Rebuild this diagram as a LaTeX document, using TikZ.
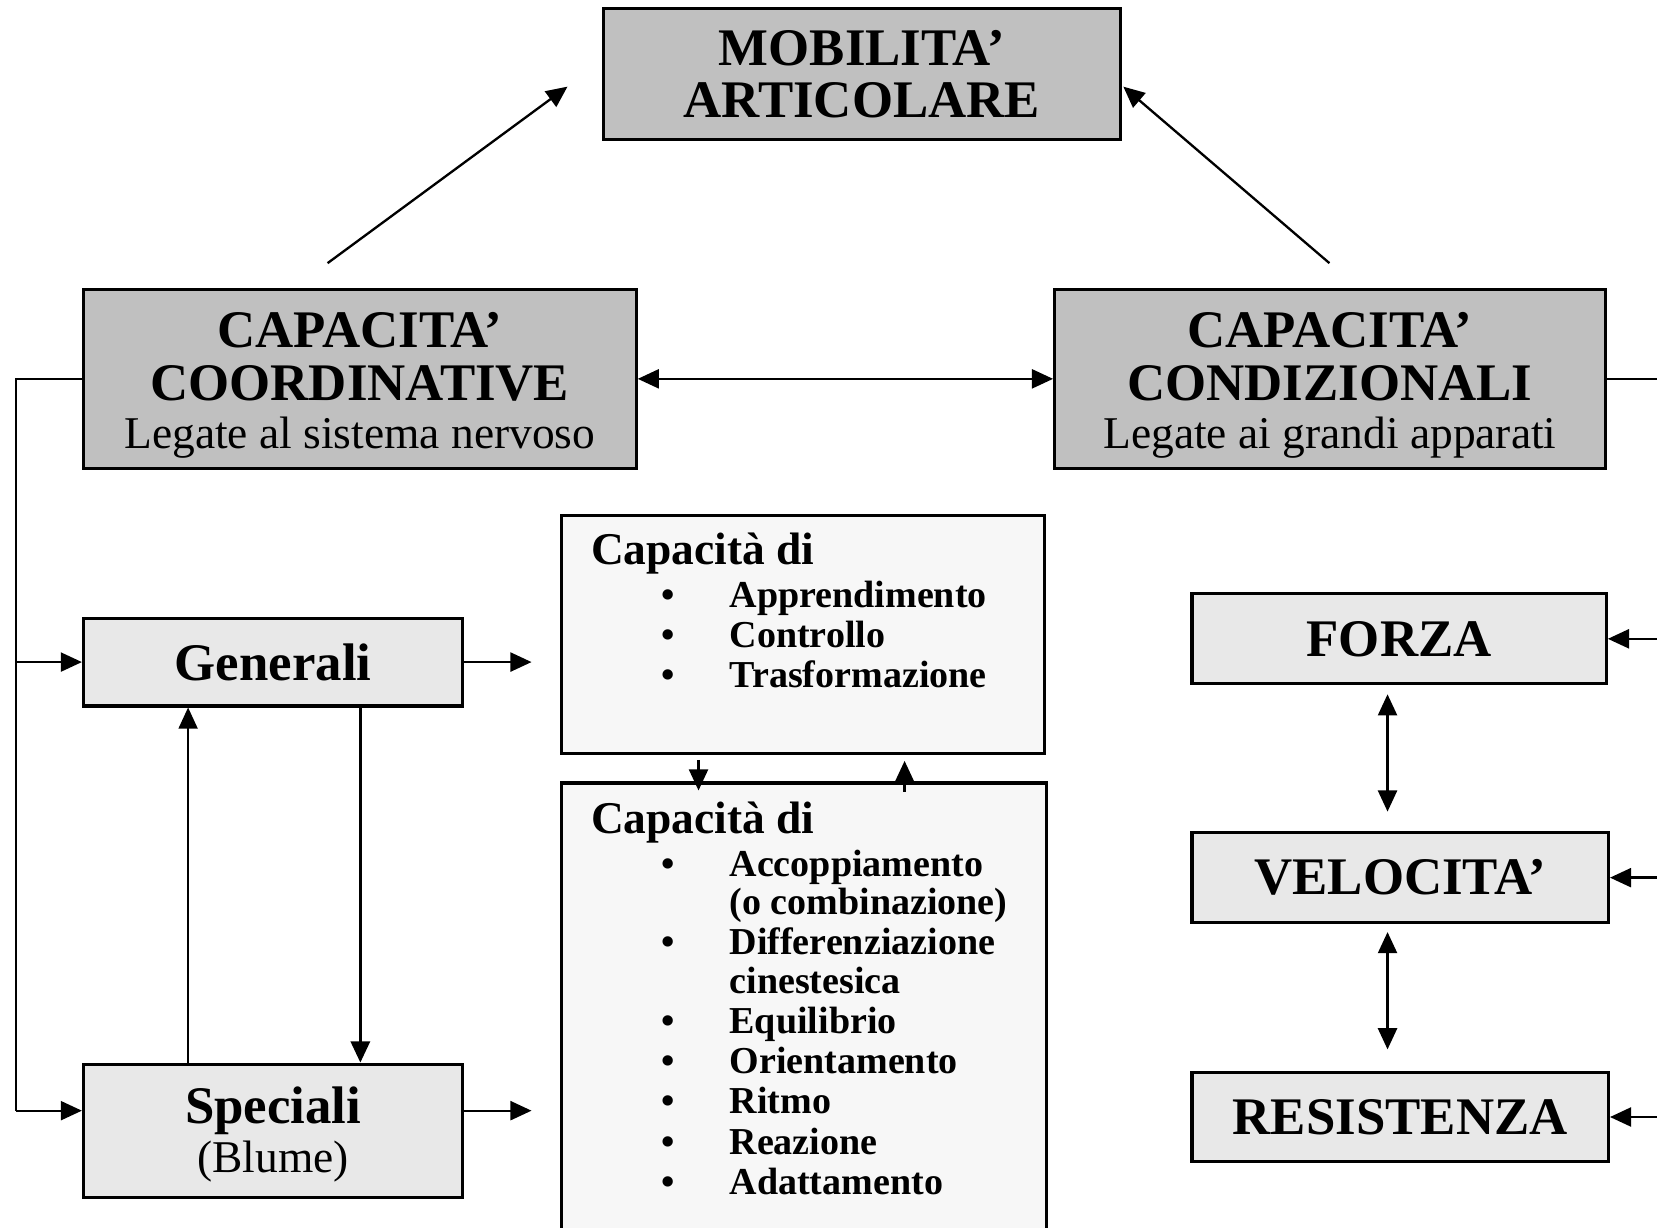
\documentclass[tikz,border=0pt]{standalone}
\usepackage{fontspec}
\setmainfont{Liberation Serif}
\usetikzlibrary{arrows.meta}
\definecolor{boxdark}{HTML}{C0C0C0}
\definecolor{boxlight}{HTML}{E8E8E8}
\definecolor{boxpale}{HTML}{F7F7F7}
\begin{document}
\begin{tikzpicture}[x=0.5pt,y=-0.5pt,
  frame/.style={draw=black, line width=1.5pt, inner sep=0pt, align=center},
  darkbox/.style={frame, fill=boxdark},
  lightbox/.style={frame, fill=boxlight},
  palebox/.style={frame, fill=boxpale},
  bigbold/.style={font=\fontsize{25}{25}\selectfont\bfseries},
  arr/.style={line width=1.1pt, -{Triangle[length=10pt,width=9pt]}},
  dbl/.style={line width=1.1pt, {Triangle[length=10pt,width=9pt]}-{Triangle[length=10pt,width=9pt]}},
  plain/.style={line width=1.1pt},
  listhead/.style={anchor=base west, inner sep=0pt, font=\fontsize{21.5}{24}\selectfont\bfseries},
  listitem/.style={anchor=base west, inner sep=0pt, font=\fontsize{18}{19}\selectfont\bfseries},
  listdot/.style={anchor=base, inner sep=0pt, font=\fontsize{18}{19}\selectfont\bfseries},
]
\useasboundingbox[fill=white] (0,0) rectangle (1568,1162);

% --- boxes ---
\node[darkbox, minimum width=244.5pt, minimum height=62pt,
      font=\fontsize{25}{24.5}\selectfont\bfseries] (mob) at (815.5,70)
      {MOBILITA’\\ARTICOLARE};

\node[darkbox, bigbold, minimum width=261.5pt, minimum height=84.5pt] (coord) at (340.5,358.5)
      {\rule{0pt}{23pt}CAPACITA’\\COORDINATIVE\\[-2pt]{\fontsize{21.5}{23}\selectfont\mdseries Legate al sistema nervoso}};

\node[darkbox, bigbold, minimum width=260.5pt, minimum height=84.5pt] (cond) at (1258.5,358.5)
      {\rule{0pt}{23pt}CAPACITA’\\CONDIZIONALI\\[-2pt]{\fontsize{21.5}{23}\selectfont\mdseries Legate ai grandi apparati}};

\node[lightbox, bigbold, minimum width=179.5pt, minimum height=41.5pt] (gen) at (258.5,626.5) {Generali};
\node[lightbox, bigbold, minimum width=179.5pt, minimum height=63pt] (spec) at (258.5,1070)
      {\rule{0pt}{21pt}Speciali\\[-2pt]{\fontsize{21.5}{23}\selectfont\mdseries (Blume)}};

\node[palebox, minimum width=228.5pt, minimum height=112.5pt] (cap1) at (759.5,600.5) {};
\node[palebox, minimum width=229.5pt, minimum height=220pt] (cap2) at (760.5,961) {};

\node[lightbox, bigbold, minimum width=196pt, minimum height=42.5pt] (forza) at (1324,604.5) {FORZA};
\node[lightbox, bigbold, minimum width=197pt, minimum height=42.5pt] (vel) at (1325,830.5) {VELOCITA’};
\node[lightbox, bigbold, minimum width=197pt, minimum height=42pt] (res) at (1325,1057) {RESISTENZA};

% --- lists inside the two "Capacità di" boxes ---
\node[listhead] (c1h) at (559,534) {Capacità di};
\foreach \y/\t [count=\i] in {575/Apprendimento, 613/Controllo, 651/Trasformazione} {
  \node[listdot] (c1b\i) at (632,\y) {\textbullet};
  \node[listitem] (c1t\i) at (690,\y) {\t};
}

\node[listhead] (c2h) at (559,789) {Capacità di};
\foreach \y/\t [count=\i] in {829/Accoppiamento, 903/Differenziazione, 978/Equilibrio,
                              1016/Orientamento, 1054/Ritmo, 1092/Reazione, 1130/Adattamento} {
  \node[listdot] (c2b\i) at (632,\y) {\textbullet};
  \node[listitem] (c2t\i) at (690,\y) {\t};
}
\node[listitem] (c2x1) at (690,865) {(o combinazione)};
\node[listitem] (c2x2) at (690,940) {cinestesica};

% --- connectors ---
\coordinate (m1) at (310,249);  \coordinate (m1e) at (537,82);
\coordinate (m2) at (1258,249); \coordinate (m2e) at (1063,82);
\draw[arr] (m1) -- (m1e);
\draw[arr] (m2) -- (m2e);

\draw[dbl] (coord.east) -- (cond.west);

% left trunk
\coordinate (lt) at (15,358.5);
\coordinate (lb) at (15,1051);
\draw[plain] (coord.west) -- (lt) -- (lb);
\draw[arr] (lt |- gen.west) -- (gen.west);
\draw[arr] (lb) -- (lb -| spec.west);

% between Generali and Speciali
\draw[arr, line width=1.4pt] ([xshift=41.25pt]gen.south) -- ([xshift=41.25pt]spec.north);
\draw[arr, line width=0.8pt] ([xshift=-40.25pt]spec.north) -- ([xshift=-40.25pt]gen.south);

% towards the lists
\coordinate (g1e) at (503,626.5);
\coordinate (s1e) at (503,1051);
\draw[arr] (gen.east) -- (g1e);
\draw[arr] (s1e -| spec.east) -- (s1e);

% between the two lists
\coordinate (d1) at (661,719); \coordinate (d1e) at (661,748);
\coordinate (u1) at (856,749); \coordinate (u1e) at (856,720);
\draw[arr] (d1) -- (d1e);
\draw[arr] (u1) -- (u1e);

% right trunk
\coordinate (rt) at (1590,358.5);
\draw[plain] (cond.east) -- (rt) -- (rt |- res.east);
\draw[arr] (rt |- forza.east) -- (forza.east);
\draw[arr] (rt |- vel.east) -- (vel.east);
\draw[arr] (rt |- res.east) -- (res.east);

% among the conditional abilities
\coordinate (fv1) at (1313,657); \coordinate (fv2) at (1313,768);
\coordinate (vr1) at (1313,882); \coordinate (vr2) at (1313,993);
\draw[dbl] (fv1) -- (fv2);
\draw[dbl] (vr1) -- (vr2);
\end{tikzpicture}
\end{document}
